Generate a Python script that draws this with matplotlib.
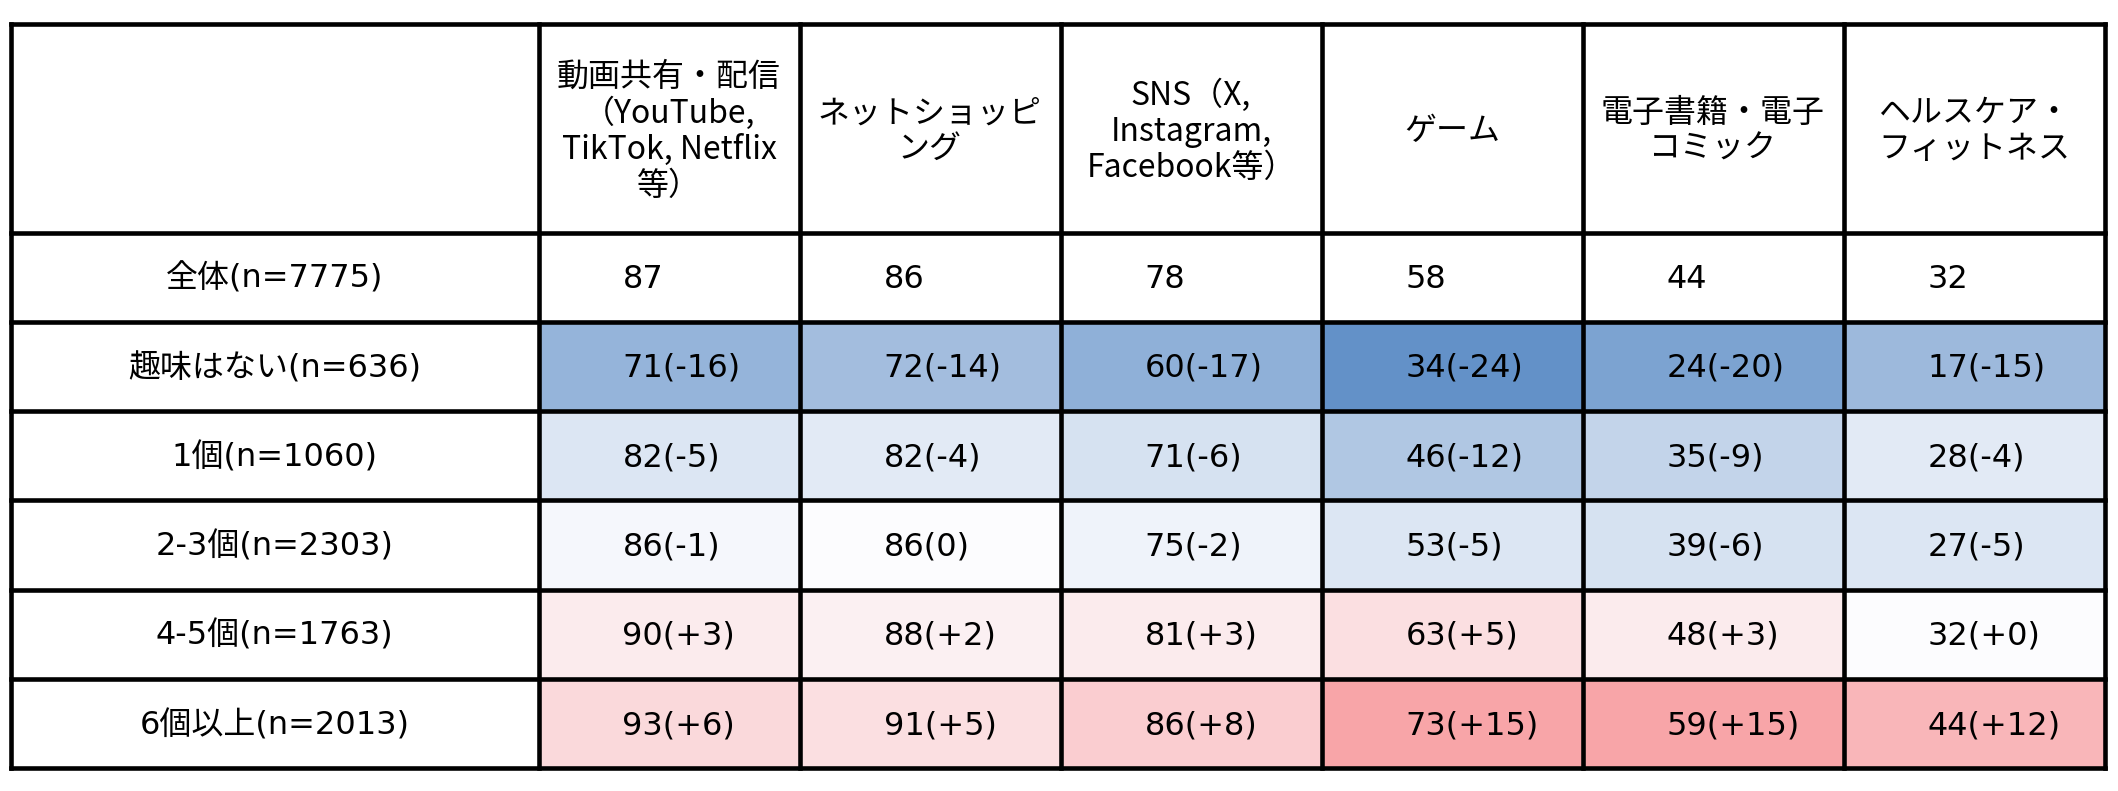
import matplotlib.pyplot as plt
from matplotlib.patches import Rectangle
from matplotlib.colors import LinearSegmentedColormap, TwoSlopeNorm

plt.rcParams['font.family'] = ['Noto Sans CJK JP', 'DejaVu Sans']

# columns (header texts)
categories = ['動画共有・配信\n（YouTube,\nTikTok, Netflix\n等）',
              'ネットショッピ\nング',
              'SNS（X,\nInstagram,\nFacebook等）',
              'ゲーム',
              '電子書籍・電子\nコミック',
              'ヘルスケア・\nフィットネス']

overall_label = '全体(n=7775)'
overall = [87, 86, 78, 58, 44, 32]

groups = ['趣味はない(n=636)', '1個(n=1060)', '2-3個(n=2303)',
          '4-5個(n=1763)', '6個以上(n=2013)']

values = [[71, 72, 60, 34, 24, 17],
          [82, 82, 71, 46, 35, 28],
          [86, 86, 75, 53, 39, 27],
          [90, 88, 81, 63, 48, 32],
          [93, 91, 86, 73, 59, 44]]

# difference from 全体, as printed
diff_labels = [['-16', '-14', '-17', '-24', '-20', '-15'],
               ['-5', '-4', '-6', '-12', '-9', '-4'],
               ['-1', '0', '-2', '-5', '-6', '-5'],
               ['+3', '+2', '+3', '+5', '+3', '+0'],
               ['+6', '+5', '+8', '+15', '+15', '+12']]

diffs = [[int(s) for s in row] for row in diff_labels]

# layout in pixels
W, H = 2118, 791
left, top = 10.5, 23.5
label_w = 528
col_w = 261
header_h = 209
row_h = 89.3
lw = 3.3
fs = 23
body_font = ['DejaVu Sans', 'Noto Sans CJK JP']

cmap = LinearSegmentedColormap.from_list('excel3', ['#6391C8', '#FCFCFE', '#F8A5A8'])
flat = [d for row in diffs for d in row]
norm = TwoSlopeNorm(vmin=min(flat), vcenter=0, vmax=max(flat))

fig = plt.figure(figsize=(W / 100, H / 100), dpi=100)
ax = fig.add_axes([0, 0, 1, 1])
ax.set_xlim(0, W)
ax.set_ylim(H, 0)
ax.axis('off')

xs = [left, left + label_w] + [left + label_w + col_w * (i + 1) for i in range(len(categories))]
ys = [top, top + header_h] + [top + header_h + row_h * (i + 1) for i in range(len(groups) + 1)]

# cell fills
for r, row in enumerate(diffs):
    for c, d in enumerate(row):
        y0 = ys[r + 2]
        ax.add_patch(Rectangle((xs[c + 1], y0), col_w, row_h,
                               facecolor=cmap(norm(d)), edgecolor='none', zorder=1))

# header texts
for c, name in enumerate(categories):
    ax.text((xs[c + 1] + xs[c + 2]) / 2, (ys[0] + ys[1]) / 2 + 3, name,
            ha='center', va='center', fontsize=fs, linespacing=1.15, zorder=3)

pad = 84
# overall row
yc = (ys[1] + ys[2]) / 2 + 2
ax.text((xs[0] + xs[1]) / 2, yc, overall_label, ha='center', va='center',
        fontsize=fs, family=body_font, zorder=3)
for c, v in enumerate(overall):
    ax.text(xs[c + 1] + pad, yc, str(v), ha='left', va='center',
            fontsize=fs, family=body_font, zorder=3)

# group rows
for r, g in enumerate(groups):
    yc = (ys[r + 2] + ys[r + 3]) / 2 + 2
    ax.text((xs[0] + xs[1]) / 2, yc, g, ha='center', va='center',
            fontsize=fs, family=body_font, zorder=3)
    for c, v in enumerate(values[r]):
        ax.text(xs[c + 1] + pad, yc, f'{v}({diff_labels[r][c]})',
                ha='left', va='center', fontsize=fs, family=body_font, zorder=3)

# grid lines
for x in xs:
    ax.plot([x, x], [ys[0], ys[-1]], color='black', lw=lw, solid_capstyle='projecting', zorder=4)
for y in ys:
    ax.plot([xs[0], xs[-1]], [y, y], color='black', lw=lw, solid_capstyle='projecting', zorder=4)

fig.savefig('out.png', dpi=100, facecolor='white')
